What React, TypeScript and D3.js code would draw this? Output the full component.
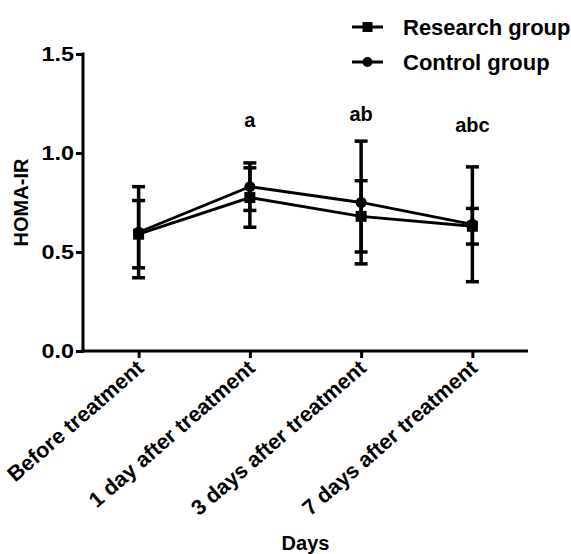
import React, { useEffect, useRef } from 'react'
import * as d3 from 'd3'

// days after treatment
const categories = [
  'Before treatment',
  '1 day after treatment',
  '3 days after treatment',
  '7 days after treatment',
]

// HOMA-IR mean and SD per group
const researchMean = [0.59, 0.775, 0.68, 0.63]
const researchSD = [0.17, 0.15, 0.18, 0.09]
const controlMean = [0.6, 0.83, 0.75, 0.64]
const controlSD = [0.23, 0.12, 0.31, 0.29]

// significance marks and the HOMA-IR level they sit at
const sigLabels = ['', 'a', 'ab', 'abc']
const sigLevel = [0, 1.13, 1.16, 1.105]

const yTicks = [0, 0.5, 1.0, 1.5]

const W = 571
const H = 554
const FONT = '"Liberation Sans", Arial, Helvetica, sans-serif'

export default function App() {
  const svgRef = useRef<SVGSVGElement>(null)

  useEffect(() => {
    const svg = d3.select(svgRef.current)
    svg.selectAll('*').remove()

    const x = d3.scalePoint<string>().domain(categories).range([83, 528]).padding(0.5)
    const y = d3.scaleLinear().domain([0, 1.5]).range([351, 54])

    const g = svg.append('g').attr('font-family', FONT).attr('font-weight', 'bold')

    // y axis
    const yAxis = g.append('g')
      .attr('transform', 'translate(83,0)')
      .call(d3.axisLeft(y).tickValues(yTicks).tickFormat(d3.format('.1f')).tickSize(7).tickPadding(4))
    yAxis.select('.domain').attr('stroke', '#000').attr('stroke-width', 3)
      .attr('d', `M0,${y(1.5) - 1.5}V${y(0) + 1.5}`)
    yAxis.selectAll('.tick line').attr('stroke', '#000').attr('stroke-width', 3)
    yAxis.selectAll('.tick text')
      .attr('font-size', 19.5).attr('font-family', FONT).attr('font-weight', 'bold').attr('fill', '#000')
      .attr('x', 0)
      .attr('transform', 'translate(-9,0) scale(1.2,1)')

    // x axis
    const xAxis = g.append('g')
      .attr('transform', `translate(0,${y(0)})`)
      .call(d3.axisBottom(x).tickSize(7).tickSizeOuter(0))
    xAxis.select('.domain').attr('stroke', '#000').attr('stroke-width', 3)
      .attr('d', `M${81.5},0H528`)
    xAxis.selectAll('.tick line').attr('stroke', '#000').attr('stroke-width', 3)
    xAxis.selectAll('.tick text')
      .attr('font-size', 21.5).attr('font-family', FONT).attr('font-weight', 'bold').attr('fill', '#000')
      .attr('text-anchor', 'end')
      .attr('dy', null)
      .attr('y', null)
      .attr('transform', 'translate(6,19) rotate(-41)')

    // axis titles
    g.append('text')
      .attr('transform', `translate(28,${(y(0) + y(1.5)) / 2}) rotate(-90)`)
      .attr('text-anchor', 'middle')
      .attr('font-size', 20)
      .text('HOMA-IR')
    g.append('text')
      .attr('x', (83 + 528) / 2)
      .attr('y', 550)
      .attr('text-anchor', 'middle')
      .attr('font-size', 20)
      .text('Days')

    const groups = [
      { mean: researchMean, sd: researchSD, shape: 'square' },
      { mean: controlMean, sd: controlSD, shape: 'circle' },
    ]

    // error bars
    groups.forEach(grp => {
      categories.forEach((c, i) => {
        const cx = x(c)!
        const top = y(grp.mean[i] + grp.sd[i])
        const bot = y(grp.mean[i] - grp.sd[i])
        g.append('line').attr('x1', cx).attr('x2', cx).attr('y1', top).attr('y2', bot)
          .attr('stroke', '#000').attr('stroke-width', 3.5)
        ;[top, bot].forEach(v => {
          g.append('line').attr('x1', cx - 6.5).attr('x2', cx + 6.5).attr('y1', v).attr('y2', v)
            .attr('stroke', '#000').attr('stroke-width', 3.5)
        })
      })
    })

    // lines
    const lineGen = d3.line<number>().x((_, i) => x(categories[i])!).y(d => y(d))
    groups.forEach(grp => {
      g.append('path').attr('d', lineGen(grp.mean)!).attr('fill', 'none')
        .attr('stroke', '#000').attr('stroke-width', 2.8)
    })

    // markers
    const drawMarker = (sel: any, shape: string, cx: number, cy: number, s: number) => {
      if (shape === 'square') {
        sel.append('rect').attr('x', cx - s / 2).attr('y', cy - s / 2).attr('width', s).attr('height', s).attr('fill', '#000')
      } else {
        sel.append('circle').attr('cx', cx).attr('cy', cy).attr('r', s / 2).attr('fill', '#000')
      }
    }
    groups.forEach(grp => {
      categories.forEach((c, i) => drawMarker(g, grp.shape, x(c)!, y(grp.mean[i]), 11))
    })

    // significance letters
    categories.forEach((c, i) => {
      if (!sigLabels[i]) return
      g.append('text').attr('x', x(c)!).attr('y', y(sigLevel[i]))
        .attr('text-anchor', 'middle').attr('font-size', 20).text(sigLabels[i])
    })

    // legend
    const legend = g.append('g')
    const names = ['Research group', 'Control group']
    groups.forEach((grp, i) => {
      const ly = 27 + i * 35
      legend.append('line').attr('x1', 352).attr('x2', 383).attr('y1', ly).attr('y2', ly)
        .attr('stroke', '#000').attr('stroke-width', 3)
      drawMarker(legend, grp.shape, 367.5, ly, 10)
      legend.append('text').attr('x', 403).attr('y', ly).attr('dy', '0.36em')
        .attr('font-size', 22).text(names[i])
    })
  }, [])

  return (
    <svg ref={svgRef} width={W} height={H}
      style={{ position: 'absolute', left: 0, top: 0, background: '#fff' }} />
  )
}
